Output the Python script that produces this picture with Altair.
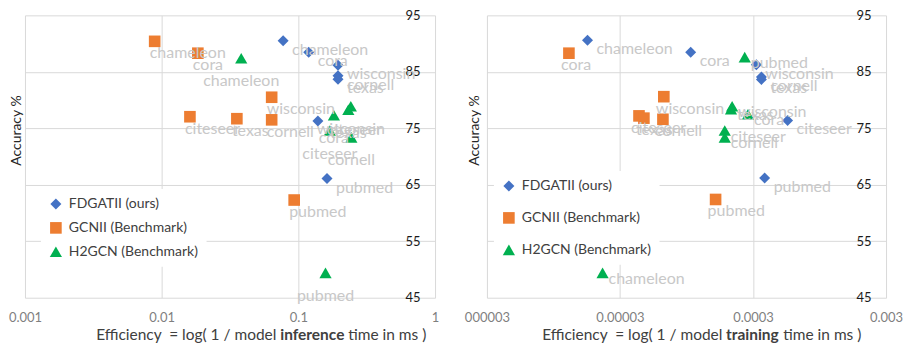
import json
import altair as alt
import pandas as pd

MODELS = ["FDGATII (ours)", "GCNII (Benchmark)", "H2GCN (Benchmark)"]
COLORS = ["#4472C4", "#ED7D31", "#00B050"]
SHAPES = ["diamond", "square", "triangle-up"]
SIZES = [121, 150, 115]

# ---- Inference panel (left) ----
INF_FD_NAMES = ["chameleon", "cora", "wisconsin", "cornell", "texas", "citeseer", "pubmed"]
INF_FD_EFF = [0.0774, 0.119, 0.195, 0.195, 0.195, 0.139, 0.162]
INF_FD_ACC = [90.5, 88.45, 86.15, 84.3, 83.7, 76.3, 66.1]

INF_GC_NAMES = ["chameleon", "cora", "wisconsin", "citeseer", "texas", "cornell", "pubmed"]
INF_GC_EFF = [0.00889, 0.0184, 0.0638, 0.0161, 0.0355, 0.0638, 0.0932]
INF_GC_ACC = [90.4, 88.3, 80.5, 77.05, 76.7, 76.5, 62.3]

INF_H2_NAMES = ["chameleon", "wisconsin", "texas", "cora", "citeseer", "cornell", "pubmed"]
INF_H2_EFF = [0.0382, 0.242, 0.232, 0.182, 0.17, 0.244, 0.158]
INF_H2_ACC = [87.4, 78.9, 78.3, 77.3, 74.6, 73.4, 49.4]

# ---- Training panel (right) ----
TR_FD_NAMES = ["chameleon", "cora", "wisconsin", "cornell", "texas", "citeseer", "pubmed"]
TR_FD_EFF = [1.71e-5, 1.02e-4, 3.18e-4, 3.47e-4, 3.47e-4, 5.46e-4, 3.67e-4]
TR_FD_ACC = [90.6, 88.45, 86.25, 84.1, 83.65, 76.4, 66.2]

TR_GC_NAMES = ["cora", "wisconsin", "citeseer", "texas", "cornell", "pubmed"]
TR_GC_EFF = [1.24e-5, 6.41e-5, 4.17e-5, 4.54e-5, 6.31e-5, 1.57e-4]
TR_GC_ACC = [88.3, 80.6, 77.2, 76.8, 76.6, 62.4]

TR_H2_NAMES = ["pubmed", "wisconsin", "texas", "cora", "citeseer", "cornell", "chameleon"]
TR_H2_EFF = [2.6e-4, 2.09e-4, 2.05e-4, 2.75e-4, 1.84e-4, 1.84e-4, 2.22e-5]
TR_H2_ACC = [87.6, 78.9, 78.4, 77.5, 74.6, 73.4, 49.4]

ACC_TICKS = [45, 55, 65, 75, 85, 95]
INF_TICKS = [0.001, 0.01, 0.1, 1]
INF_TICK_LABELS = ["0.001", "0.01", "0.1", "1"]
TR_TICKS = [0.000003, 0.00003, 0.0003, 0.003]
TR_TICK_LABELS = ["000003", "0.00003", "0.0003", "0.003"]

FONT = "Lato"
H = 283


def frame(series):
    rows = []
    for model, names, effs, accs in series:
        for n, e, a in zip(names, effs, accs):
            rows.append({"model": model, "name": n, "eff": e, "acc": a})
    return pd.DataFrame(rows)


def panel(df, width, ticks, tick_labels, legend_x, legend_y, row_pad,
          label_style, title_parts, title_pos, ytitle_x):
    xmin = ticks[0]
    label_expr = f"{json.dumps(tick_labels)}[round(log(datum.value/{xmin})/LN10)]"
    x = alt.X("eff:Q", scale=alt.Scale(type="log", domain=[ticks[0], ticks[-1]], nice=False),
              axis=alt.Axis(values=ticks, labelExpr=label_expr, title=None, grid=True,
                            gridColor="#d9d9d9", domain=False, ticks=False, tickSize=0,
                            labelColor="#7f7f7f", labelFont=FONT, labelFontSize=13,
                            labelPadding=14, labelFlush=False))
    y = alt.Y("acc:Q", scale=alt.Scale(domain=[45, 95], nice=False, zero=False),
              axis=alt.Axis(orient="right", values=ACC_TICKS, grid=True, gridColor="#d9d9d9",
                            domain=False, ticks=False, tickSize=0, labelAlign="right",
                            labelBaseline="middle", labelPadding=-15, labelColor="#1a1a1a",
                            labelFont=FONT, labelFontSize=13, title="Accuracy %",
                            titleAngle=270, titleX=-width + ytitle_x, titleY=115,
                            titleAlign="center", titleBaseline="middle", titleFont=FONT,
                            titleFontSize=14, titleFontWeight="normal", titleColor="#262626"))
    legend = alt.Legend(orient="none", legendX=legend_x, legendY=legend_y, title=None,
                        fillColor="white", padding=8, rowPadding=row_pad, symbolSize=75,
                        labelFont=FONT, labelFontSize=14, labelColor="#404040",
                        labelOffset=6, symbolStrokeWidth=0)
    base = alt.Chart(df)
    points = base.mark_point(filled=True, opacity=1).encode(
        x=x, y=y,
        color=alt.Color("model:N", scale=alt.Scale(domain=MODELS, range=COLORS), legend=legend),
        shape=alt.Shape("model:N", scale=alt.Scale(domain=MODELS, range=SHAPES), legend=legend),
        size=alt.Size("model:N", scale=alt.Scale(domain=MODELS, range=SIZES), legend=None),
    )
    layers = [points]
    for model, (align, dx, dy) in zip(MODELS, label_style):
        layers.append(
            base.transform_filter(alt.datum.model == model)
            .mark_text(align=align, baseline="middle", dx=dx, dy=dy, font=FONT,
                       fontSize=16, color="#c8c8c8")
            .encode(x="eff:Q", y="acc:Q", text="name:N")
        )
    (ax, bx, cx) = title_pos
    a_txt, b_txt, c_txt = title_parts
    tdf = pd.DataFrame({"t": [0]})
    for txt, px, al, wt in [(a_txt, ax, "right", "normal"), (b_txt, bx, "center", "bold"),
                            (c_txt, cx, "left", "normal")]:
        layers.append(
            alt.Chart(tdf).mark_text(align=al, baseline="middle", font=FONT, fontSize=15.5,
                                     fontWeight=wt, color="#404040")
            .encode(x=alt.value(px), y=alt.value(H + 37), text=alt.value(txt))
        )
    return alt.layer(*layers).properties(width=width, height=H)


inf_df = frame([(MODELS[0], INF_FD_NAMES, INF_FD_EFF, INF_FD_ACC),
                (MODELS[1], INF_GC_NAMES, INF_GC_EFF, INF_GC_ACC),
                (MODELS[2], INF_H2_NAMES, INF_H2_EFF, INF_H2_ACC)])
tr_df = frame([(MODELS[0], TR_FD_NAMES, TR_FD_EFF, TR_FD_ACC),
               (MODELS[1], TR_GC_NAMES, TR_GC_EFF, TR_GC_ACC),
               (MODELS[2], TR_H2_NAMES, TR_H2_EFF, TR_H2_ACC)])

left = panel(inf_df, 411, INF_TICKS, INF_TICK_LABELS, 16, 174, 10,
             [("left", 9, 9), ("left", -5, 12), ("center", 0, 23)],
             ("Efficiency\u00a0\u00a0= log( 1 / model", "inference", "time in ms )"),
             (252, 288, 324), -8)
right = panel(tr_df, 400, TR_TICKS, TR_TICK_LABELS, 7, 156, 18,
              [("left", 9, 9), ("left", -8, 12), ("left", 6, 6)],
              ("Efficiency\u00a0\u00a0= log( 1 / model", "training", "time in ms )"),
              (236, 266, 297), -12)

chart = alt.hconcat(left, right, spacing=25).resolve_legend(
    color="independent", shape="independent"
).resolve_scale(color="independent", shape="independent", size="independent").configure_view(
    stroke=None
).properties(padding={"top": 1, "left": 0, "right": 0, "bottom": 0})

chart.save("out.html", embed_options={"renderer": "svg", "actions": False})
